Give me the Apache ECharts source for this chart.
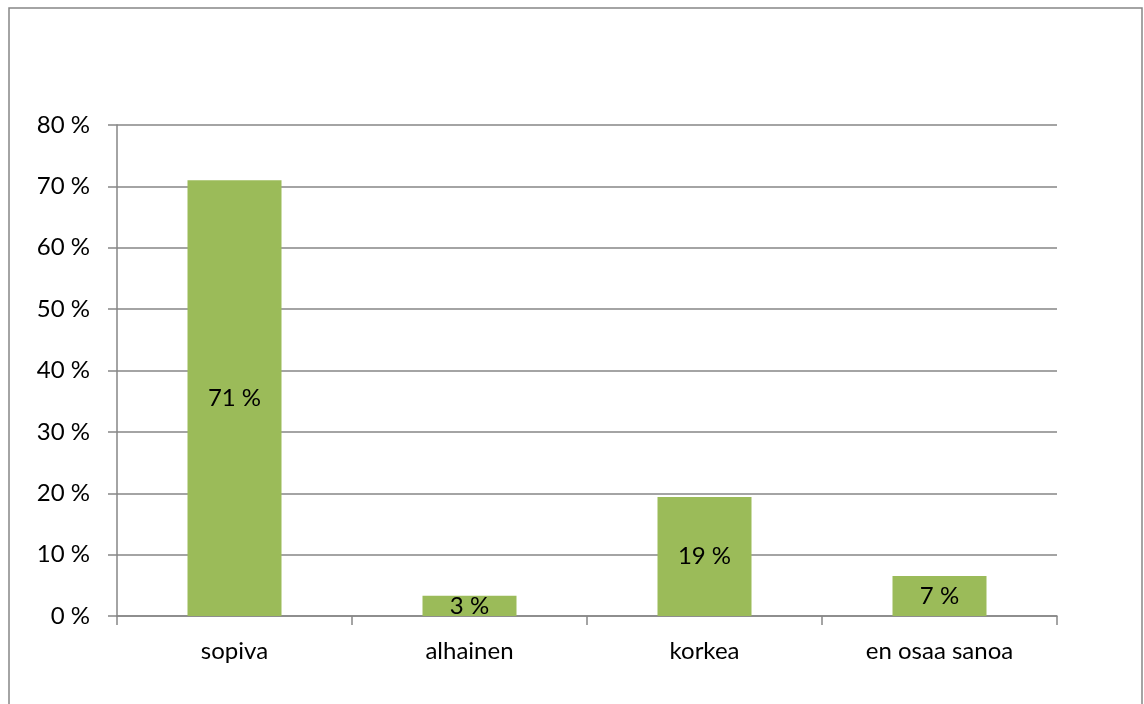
<!DOCTYPE html>
<html>
<head>
<meta charset="utf-8">
<script src="https://cdn.jsdelivr.net/npm/echarts@6/dist/echarts.min.js"></script>
<style>
html,body{margin:0;padding:0;background:#fff;}
#c{width:1144px;height:704px;}
</style>
</head>
<body>
<div id="c"></div>
<script>
const categories = ['sopiva', 'alhainen', 'korkea', 'en osaa sanoa'];
const values = [71.0, 3.3, 19.4, 6.5];
const valueLabels = ['71 %', '3 %', '19 %', '7 %'];
const yTicks = [0, 10, 20, 30, 40, 50, 60, 70, 80];

const FONT = 'Lato';
const FS = 24;
const GRAY = '#868686';
const chart = echarts.init(document.getElementById('c'));
chart.setOption({
  backgroundColor: '#fff',
  animation: false,
  graphic: [{
    type: 'rect',
    shape: { x: 9, y: 8, width: 1133, height: 740 },
    style: { fill: 'none', stroke: GRAY, lineWidth: 1.5 },
    silent: true
  }],
  grid: { left: 117, right: 87, top: 125, bottom: 88, containLabel: false },
  xAxis: {
    type: 'category',
    data: categories,
    axisLine: { lineStyle: { color: GRAY, width: 1.5 } },
    axisTick: { show: true, alignWithLabel: false, length: 9, lineStyle: { color: GRAY, width: 1.5 } },
    axisLabel: { color: '#000', fontFamily: FONT, fontSize: FS, margin: 23 }
  },
  yAxis: {
    type: 'value',
    min: yTicks[0],
    max: yTicks[yTicks.length - 1],
    interval: 10,
    axisLine: { show: true, lineStyle: { color: GRAY, width: 1.5 } },
    axisTick: { show: true, length: 9, lineStyle: { color: GRAY, width: 1.5 } },
    splitLine: { show: true, lineStyle: { color: GRAY, width: 1.5 } },
    axisLabel: { color: '#000', fontFamily: FONT, fontSize: FS, margin: 27, formatter: v => v + ' %' }
  },
  series: [{
    type: 'bar',
    data: values,
    barCategoryGap: '60%',
    itemStyle: { color: '#9BBB59' },
    label: {
      show: true,
      position: 'inside',
      color: '#000',
      fontFamily: FONT,
      fontSize: FS,
      formatter: p => valueLabels[p.dataIndex]
    }
  }]
});
</script>
</body>
</html>
